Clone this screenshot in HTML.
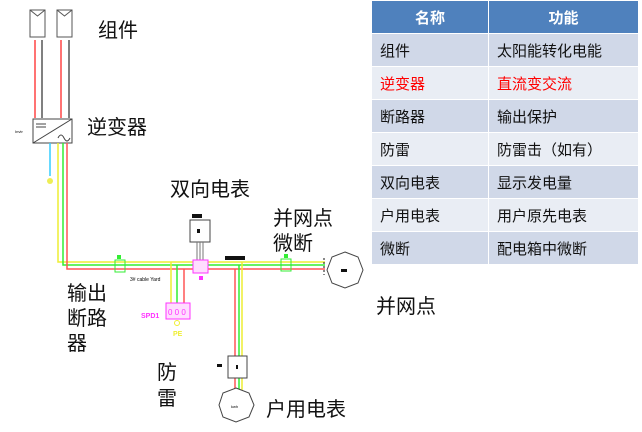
<!DOCTYPE html>
<html><head><meta charset="utf-8"><style>
body{margin:0;width:642px;height:432px;background:#fff;overflow:hidden;position:relative;font-family:"Liberation Sans","Noto Sans CJK SC",sans-serif}
.l{position:absolute;font-size:20px;color:#111;line-height:1;white-space:nowrap}
table{position:absolute;left:371px;top:0;border-collapse:collapse;width:268px}
td{height:33px;font-size:15px;padding:0 0 0 8px;border:1px solid #fff;color:#111;box-sizing:border-box}
th{height:33px;background:#4f81bd;color:#fff;font-size:15px;border:1px solid #fff;box-sizing:border-box}
tr.o td{background:#d0d8e8}tr.e td{background:#e9edf4}
.r td{color:#f00}
</style></head><body>
<svg width="642" height="432" style="position:absolute;left:0;top:0">
<g stroke="#555" fill="#fff" stroke-width="1">
<rect x="30" y="10" width="15" height="27"/><path d="M30 10 L37.5 16 L45 10" fill="none"/>
<rect x="57" y="10" width="15" height="27"/><path d="M57 10 L64.5 16 L72 10" fill="none"/>
</g>
<line x1="35" y1="40" x2="35" y2="118" stroke="#f44" stroke-width="1.5"/>
<line x1="42" y1="40" x2="42" y2="118" stroke="#555" stroke-width="1.5"/>
<line x1="61" y1="40" x2="61" y2="118" stroke="#f44" stroke-width="1.5"/>
<line x1="69" y1="40" x2="69" y2="118" stroke="#555" stroke-width="1.5"/>
<rect x="33" y="119" width="39" height="24" fill="#fff" stroke="#444"/>
<line x1="33" y1="143" x2="72" y2="119" stroke="#444"/>
<path d="M36 124h10M36 127h10M58 138q3-6 6 0t6 0" stroke="#444" fill="none"/>
<text x="15" y="133" font-size="4" fill="#000">Invtr</text>
<line x1="50" y1="143" x2="50" y2="176" stroke="#3cf" stroke-width="1.5"/>
<circle cx="50" cy="181" r="3" fill="#ee5"/>
<path d="M58 143V262H325" stroke="#ee3" stroke-width="1.5" fill="none"/>
<path d="M63 143V265H325" stroke="#3e3" stroke-width="1.5" fill="none"/>
<path d="M67 143V269H325" stroke="#f55" stroke-width="1.5" fill="none"/>
<g fill="#3e3"><rect x="117" y="255" width="4" height="4"/><rect x="115" y="260" width="10" height="12" fill="none" stroke="#3e3"/>
<rect x="284" y="254" width="4" height="4"/><rect x="281" y="259" width="10" height="12" fill="none" stroke="#3e3"/></g>
<text x="130" y="281" font-size="5" fill="#000">3# cable Yard</text>
<rect x="192" y="214" width="10" height="4" fill="#111"/>
<rect x="190" y="220" width="20" height="22" fill="#fff" stroke="#444"/>
<rect x="197" y="229" width="3" height="4" fill="#111"/>
<path d="M197 242V262M200 242V262M203 242V262" stroke="#777"/>
<rect x="193" y="260" width="15" height="13" fill="#fdf" stroke="#f3f"/>
<rect x="199" y="276" width="4" height="4" fill="#f3f"/>
<rect x="225" y="256" width="20" height="4" fill="#111"/>
<path d="M171 262V304" stroke="#ee3" stroke-width="1.5"/>
<path d="M177 265V304" stroke="#3e3" stroke-width="1.5"/>
<path d="M184 269V304" stroke="#f55" stroke-width="1.5"/>
<rect x="166" y="303" width="24" height="16" fill="#fdf" stroke="#f3f"/>
<text x="168" y="315" font-size="8" fill="#f3f">0 0 0</text>
<text x="141" y="318" font-size="7" fill="#f3f" font-weight="bold">SPD1</text>
<circle cx="177" cy="323" r="2.5" fill="none" stroke="#ee3"/>
<text x="173" y="336" font-size="7" fill="#ee3" font-weight="bold">PE</text>
<path d="M235 269V390" stroke="#f55" stroke-width="1.5"/>
<path d="M239 265V390" stroke="#3e3" stroke-width="1.5"/>
<path d="M242 262V390" stroke="#ee3" stroke-width="1.5"/>
<rect x="228" y="356" width="19" height="22" fill="#fff" stroke="#444"/>
<rect x="236" y="365" width="2" height="4" fill="#111"/>
<rect x="217" y="364" width="5" height="3" fill="#111"/>
<polygon points="236,388 249,393 254,405 249,417 236,422 223,417 219,405 223,393" fill="#fff" stroke="#444"/>
<text x="231" y="408" font-size="4">kwh</text>
<polygon points="345,252 358,257 363,270 358,283 345,288 332,283 327,270 332,257" fill="#fff" stroke="#444"/>
<rect x="341" y="269" width="6" height="3" fill="#111"/>
<path d="M324 258V275" stroke="#111" stroke-dasharray="2,2"/>
</svg>
<div class="l" style="left:98px;top:21px">组件</div>
<div class="l" style="left:87px;top:118px">逆变器</div>
<div class="l" style="left:170px;top:180px">双向电表</div>
<div class="l" style="left:273px;top:209px">并网点</div>
<div class="l" style="left:273px;top:234px">微断</div>
<div class="l" style="left:376px;top:297px">并网点</div>
<div class="l" style="left:67px;top:284px">输出</div>
<div class="l" style="left:67px;top:309px">断路</div>
<div class="l" style="left:67px;top:334px">器</div>
<div class="l" style="left:157px;top:363px">防</div>
<div class="l" style="left:157px;top:389px">雷</div>
<div class="l" style="left:266px;top:400px">户用电表</div>
<table>
<tr><th style="width:117px">名称</th><th>功能</th></tr>
<tr class="o"><td>组件</td><td>太阳能转化电能</td></tr>
<tr class="e r"><td>逆变器</td><td>直流变交流</td></tr>
<tr class="o"><td>断路器</td><td>输出保护</td></tr>
<tr class="e"><td>防雷</td><td>防雷击（如有）</td></tr>
<tr class="o"><td>双向电表</td><td>显示发电量</td></tr>
<tr class="e"><td>户用电表</td><td>用户原先电表</td></tr>
<tr class="o"><td>微断</td><td>配电箱中微断</td></tr>
</table>
</body></html>
